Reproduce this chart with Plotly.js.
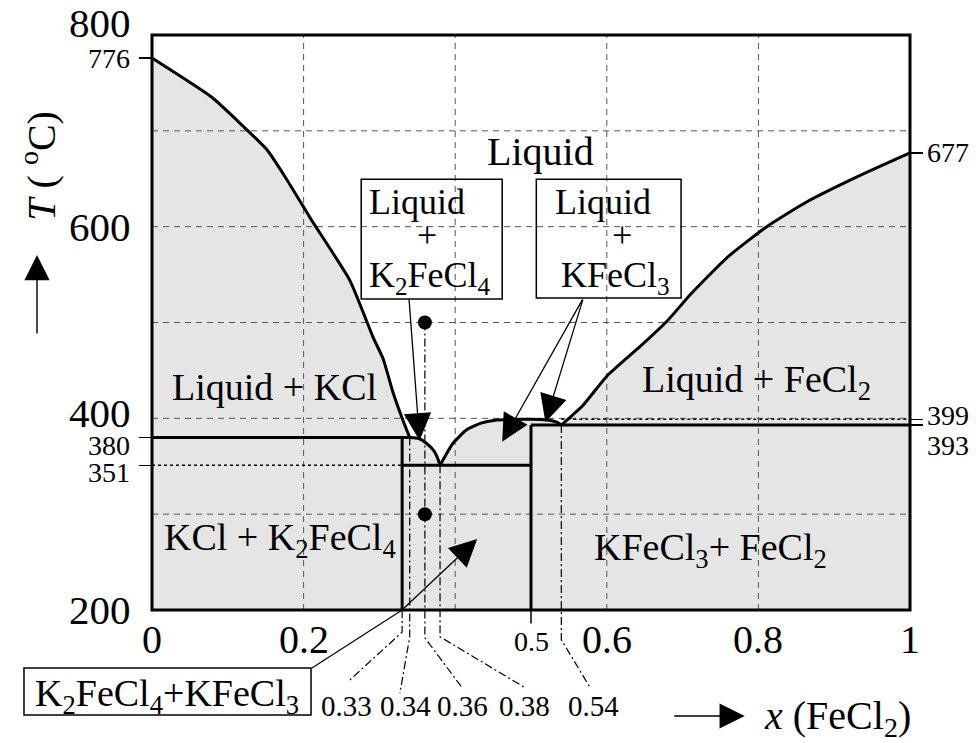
<!DOCTYPE html>
<html><head><meta charset="utf-8">
<script src="https://cdn.plot.ly/plotly-3.0.1.min.js"></script>
<style>html,body{margin:0;padding:0;background:#fff}#chart{width:976px;height:743px}</style>
</head><body><div id="chart"></div>
<script>
// ---------- data ----------
// liquidus (x = mole fraction FeCl2, T in °C)
const liquidusX = [0, 0.079, 0.120, 0.152, 0.178, 0.208, 0.216, 0.261, 0.292, 0.305, 0.318, 0.331, 0.34,
  0.352, 0.362, 0.372, 0.376, 0.38,
  0.387, 0.397, 0.415, 0.434, 0.453, 0.49, 0.5, 0.519, 0.534, 0.54,
  0.569, 0.600, 0.644, 0.679, 0.710, 0.759, 0.811, 0.864, 0.930, 1.0];
const liquidusT = [776, 735, 705, 680, 649, 610, 600, 544, 484, 462, 427, 398, 380,
  379, 374, 366, 360, 351,
  361, 374, 388, 395, 398, 399, 399, 398.5, 396, 393,
  414, 444, 475, 501, 529, 568, 600, 626, 652, 677];
const invariantX = [0.34, 0.38, 0.54];          // liquidus break points

// solid phase boundaries
const line380X = [0, 0.34],   line380T = [380, 380];
const comp33X  = [0.33, 0.33], comp33T = [200, 380];
const line351X = [0.33, 0.5], line351T = [351, 351];
const comp50X  = [0.5, 0.5],  comp50T  = [200, 393];
const line393X = [0.5, 1],    line393T = [393, 393];
// dotted reference lines
const dot351X = [0, 0.33], dot351T = [351, 351];
const dot399X = [0.54, 1], dot399T = [399, 399];

// marked compositions (dash-dot lines) and their labels
const markComp   = [0.33, 0.34, 0.36, 0.38, 0.54];
const markLabels = ['0.33', '0.34', '0.36', '0.38', '0.54'];
const markTopT   = [200, 380, 500, 351, 393];
const markKneeT  = [177, 172, 171, 172, 169];
const markEndX   = [0.261, 0.327, 0.409, 0.492, 0.578];
const markEndT   = [127, 113, 119, 119, 119];
const markLabelX = [0.257, 0.335, 0.410, 0.492, 0.582];
const markLabelT = 100;

// sample points
const sampleX = [0.36, 0.36], sampleT = [500, 300];

// grid
const gridX = [0.2, 0.4, 0.6, 0.8];
const gridT = [300, 400, 500, 600, 700];

// axis tick labels
const xTickVals = [0, 0.2, 0.6, 0.8, 1], xTickText = ['0', '0.2', '0.6', '0.8', '1'];
const yTickBig = [200, 405.5, 600], yTickBigText = ['200', '400', '600'];
const yTickLeft = [351, 380, 776];
const yTickLeftLabelT = [343, 371.5, 776];
const yTickRight = [393, 399, 677];
const yTickRightLabelT = [371.5, 402.5, 677];

// ---------- drawing ----------
const FONT = 'Liberation Serif';
const Y0 = 74.8, Y1 = 800;
const pY = T => (T - Y0) / (Y1 - Y0);   // temperature -> paper y
const BLACK = '#000';

function withBreaks(pairs) { // [[x0,x1,y0,y1],...] -> {x,y} with nulls
  const x = [], y = [];
  pairs.forEach(p => { x.push(p[0], p[1], null); y.push(p[2], p[3], null); });
  return {x, y};
}
const gV = withBreaks(gridX.map(v => [v, v, 200, 800]));
const gH = withBreaks(gridT.map(t => [0, 1, t, t]));

const traces = [];
// gray solid region
traces.push({x: liquidusX.concat([1, 0]), y: liquidusT.concat([200, 200]), mode: 'lines',
  fill: 'toself', fillcolor: '#e5e5e5', line: {width: 0}, hoverinfo: 'skip'});
// grid
[gV, gH].forEach(g => traces.push({x: g.x, y: g.y, mode: 'lines',
  line: {color: '#555', width: 1, dash: '6px,5px'}, hoverinfo: 'skip'}));
// dotted lines
traces.push({x: dot351X, y: dot351T, mode: 'lines', line: {color: BLACK, width: 1.5, dash: 'dot'}});
traces.push({x: dot399X, y: dot399T, mode: 'lines', yaxis: 'y2', line: {color: BLACK, width: 1.5, dash: 'dot'}});
// dash-dot composition markers with leaders
markComp.forEach((c, i) => traces.push({
  x: [c, c, c, markEndX[i]], y: [markTopT[i], 200, markKneeT[i], markEndT[i]], mode: 'lines',
  line: {color: BLACK, width: 1.2, dash: '8px,3px,2px,3px'}}));
// solid boundaries
[[line380X, line380T], [comp33X, comp33T], [line351X, line351T], [comp50X, comp50T], [line393X, line393T]]
  .forEach(l => traces.push({x: l[0], y: l[1], mode: 'lines', line: {color: BLACK, width: 3}}));
// liquidus segments
const breaks = [0].concat(invariantX.map(v => liquidusX.indexOf(v)), [liquidusX.length - 1]);
for (let k = 0; k < breaks.length - 1; k++) {
  traces.push({x: liquidusX.slice(breaks[k], breaks[k + 1] + 1), y: liquidusT.slice(breaks[k], breaks[k + 1] + 1),
    mode: 'lines', line: {color: BLACK, width: 3, shape: 'spline', smoothing: 0.5}});
}
// sample dots
traces.push({x: sampleX, y: sampleT, mode: 'markers', marker: {color: BLACK, size: 14}});
// 0.5 tick mark
traces.push({x: [0.5, 0.5], y: [200, 186], mode: 'lines', line: {color: BLACK, width: 1.5}});
// leader from compound box
traces.push({x: [0.211, 0.33], y: [139.5, 200], mode: 'lines', line: {color: BLACK, width: 1.2}});

const ann = [];
const txt = (text, x, y, size, extra) => Object.assign({text, x, y, xref: 'x', yref: 'y', showarrow: false,
  font: {family: FONT, size, color: BLACK}, xanchor: 'center', yanchor: 'middle'}, extra || {});
// y tick labels
yTickBig.forEach((v, i) => ann.push(txt(yTickBigText[i], -0.025, v, 41, {xref: 'paper', xanchor: 'right'})));
ann.push(txt('800', -0.025, 1.017, 41, {xref: 'paper', yref: 'paper', xanchor: 'right'}));
yTickLeft.forEach((v, i) => ann.push(txt(String(v), -0.027, yTickLeftLabelT[i], 28, {xref: 'paper', xanchor: 'right'})));
yTickRight.forEach((v, i) => ann.push(txt(String(v), 1.0198, yTickRightLabelT[i], 28, {xref: 'paper', xanchor: 'left'})));
// x tick labels
xTickVals.forEach((v, i) => ann.push(txt(xTickText[i], v, 169.7, 40)));
ann.push(txt('0.5', 0.5, 167, 28));
// composition labels
markComp.forEach((c, i) => ann.push(txt(markLabels[i], markLabelX[i], markLabelT, 29)));
// region labels
ann.push(txt('Liquid', 0.512, 678, 40));
ann.push(txt('Liquid + KCl', 0.162, 433, 38));
ann.push(txt('Liquid + FeCl<sub>2</sub>', 0.798, 438, 38));
ann.push(txt('KCl + K<sub>2</sub>FeCl<sub>4</sub>', 0.169, 273, 38));
ann.push(txt('KFeCl<sub>3</sub>+ FeCl<sub>2</sub>', 0.737, 262.5, 38));
// boxed labels
ann.push(txt('Liquid', 0.350, 626, 36));
ann.push(txt('+', 0.363, 591.5, 36));
ann.push(txt('K<sub>2</sub>FeCl<sub>4</sub>', 0.367, 547, 36));
ann.push(txt('Liquid', 0.595, 626, 36));
ann.push(txt('+', 0.620, 591.5, 36));
ann.push(txt('KFeCl<sub>3</sub>', 0.611, 547, 36));
ann.push(txt('K<sub>2</sub>FeCl<sub>4</sub>+KFeCl<sub>3</sub>', 0.0198, 110, 38));
// arrows
const arr = (x, y, ax, ay, extra) => Object.assign({text: '', x, y, ax, ay, xref: 'x', yref: 'y', axref: 'x', ayref: 'y',
  showarrow: true, arrowhead: 2, arrowsize: 4.2, arrowwidth: 1.3, arrowcolor: BLACK, standoff: 0}, extra || {});
ann.push(arr(0.353, 377, 0.339, 525.5));
ann.push(arr(0.462, 375.6, 0.569, 525.5));
ann.push(arr(0.519, 396, 0.569, 525.5));
ann.push(arr(0.429, 274, 0.33, 200));
// axis titles
ann.push(txt('<i>T</i> ( <sup>o</sup>C)', -0.150, 664, 40, {xref: 'paper', textangle: -90}));
ann.push(arr(-0.1517, 570.4, 0, 80, {xref: 'paper', axref: 'pixel', ayref: 'pixel', arrowsize: 3.6, arrowwidth: 1.4}));
ann.push(txt('<i>x</i> (FeCl<sub>2</sub>)', 0.905, 87, 40));
ann.push(arr(0.782, 89.4, -72, 0, {axref: 'pixel', ayref: 'pixel', arrowsize: 3.6, arrowwidth: 1.4}));

const shapes = [
  {type: 'rect', xref: 'paper', yref: 'paper', x0: 0, x1: 1, y0: pY(200), y1: 1, line: {color: BLACK, width: 3}, layer: 'above'},
  {type: 'rect', xref: 'x', yref: 'y', x0: 0.276, x1: 0.462, y0: 524.5, y1: 649.5, line: {color: BLACK, width: 1.5}, fillcolor: 'rgba(0,0,0,0)'},
  {type: 'rect', xref: 'x', yref: 'y', x0: 0.507, x1: 0.698, y0: 525.5, y1: 649.5, line: {color: BLACK, width: 1.5}, fillcolor: 'rgba(0,0,0,0)'},
  {type: 'rect', xref: 'paper', yref: 'paper', x0: -0.1689, x1: 0.2098, y0: pY(90.4), y1: pY(139.5), line: {color: BLACK, width: 1.5}}
];

const axBase = {range: [Y0, Y1], showgrid: false, zeroline: false, showline: false, automargin: false,
  tickmode: 'array', ticks: 'outside', ticklen: 12, tickwidth: 1.5, tickcolor: BLACK, fixedrange: true,
  showticklabels: false};
const layout = {
  width: 976, height: 743, margin: {l: 152, r: 66, t: 35, b: 13},
  paper_bgcolor: '#fff', plot_bgcolor: '#fff', showlegend: false,
  font: {family: FONT, color: BLACK},
  xaxis: {range: [0, 1], visible: false, fixedrange: true},
  yaxis: Object.assign({}, axBase, {tickvals: yTickLeft}),
  yaxis2: Object.assign({}, axBase, {overlaying: 'y', side: 'right', tickvals: yTickRight}),
  annotations: ann, shapes: shapes
};
Plotly.newPlot('chart', traces, layout, {staticPlot: true, displayModeBar: false});
</script></body></html>
